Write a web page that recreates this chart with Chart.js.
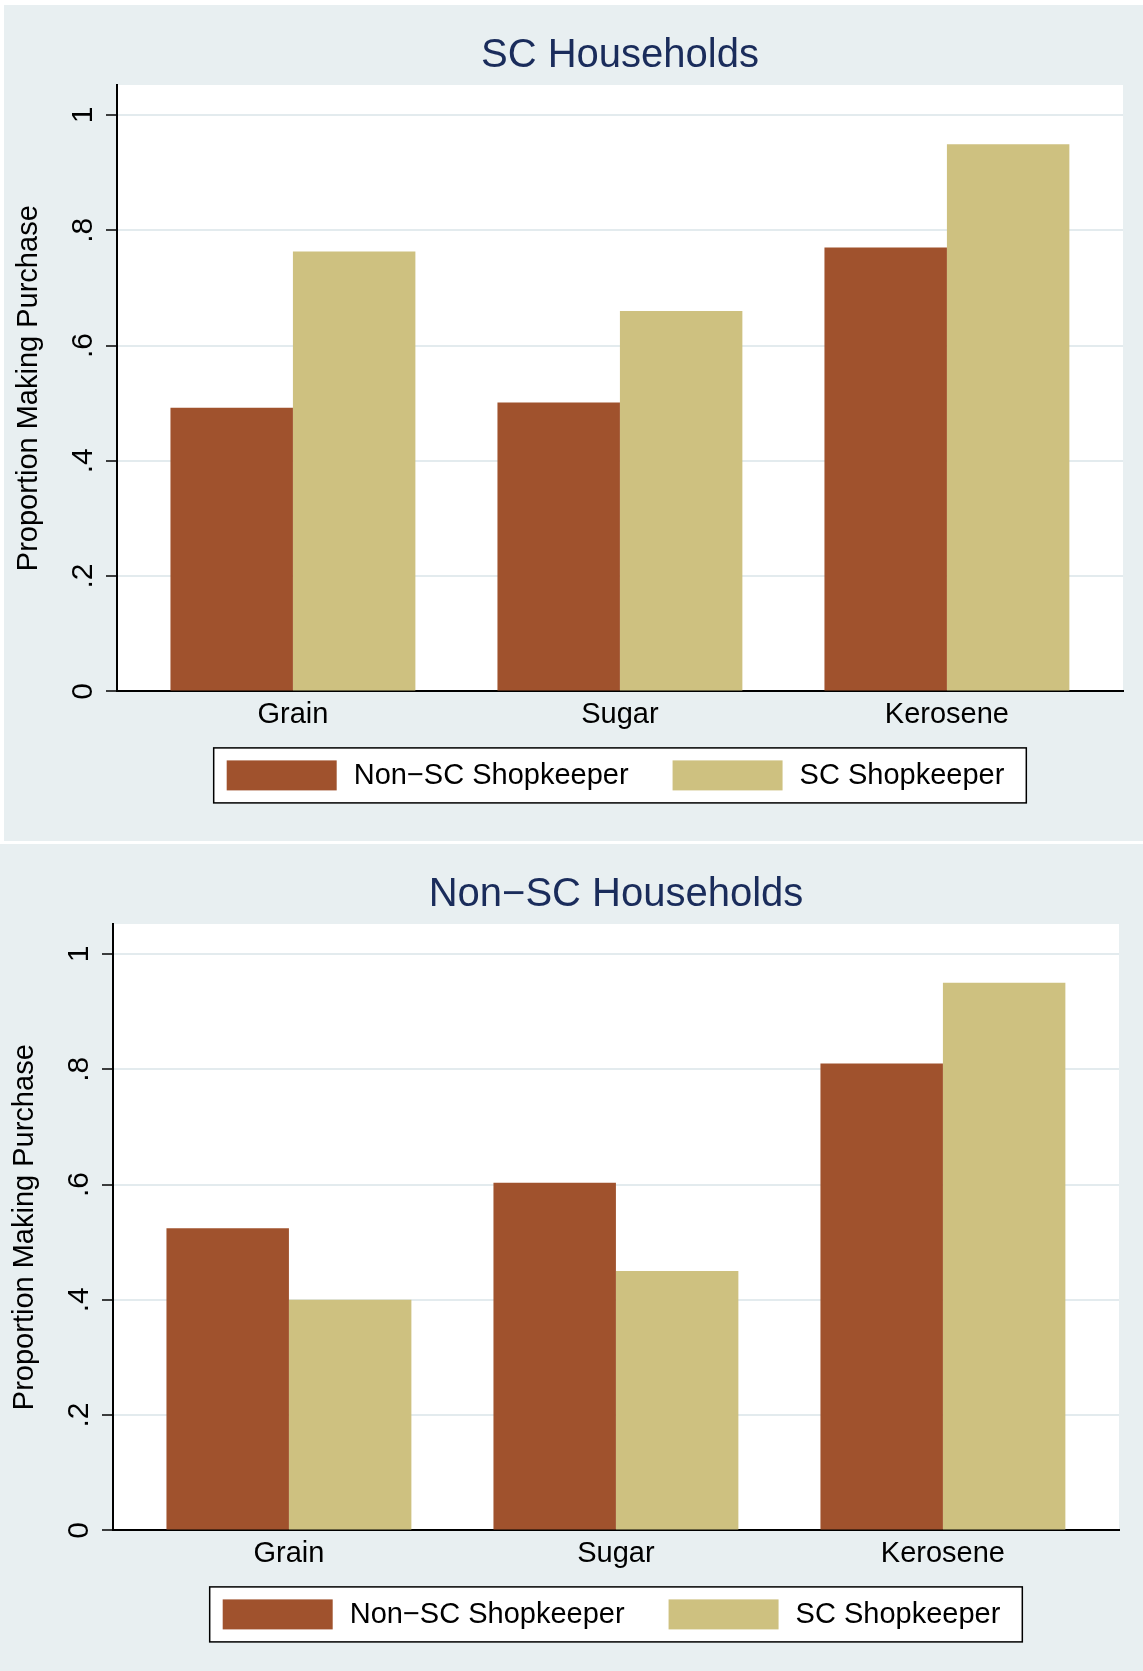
<!DOCTYPE html>
<html>
<head>
<meta charset="utf-8">
<script src="https://cdn.jsdelivr.net/npm/chart.js@4.4.1/dist/chart.umd.min.js"></script>
<style>
  body { margin: 0; background: #ffffff; width: 1143px; height: 1671px; position: relative; overflow: hidden; }
  .panel { position: absolute; background: #e8eff1; }
  #panelSC { left: 4px; top: 5px; width: 1139px; height: 836px; }
  #panelNonSC { left: 0px; top: 844px; width: 1143px; height: 827px; }
  canvas { display: block; }
</style>
</head>
<body>
<div class="panel" id="panelSC"><canvas id="scChart" width="1139" height="836"></canvas></div>
<div class="panel" id="panelNonSC"><canvas id="nonScChart" width="1143" height="827"></canvas></div>
<script>
// Data
const goods = ['Grain', 'Sugar', 'Kerosene'];
const goodsIndex = [0, 1, 2];
const shopkeeperLabels = ['Non\u2212SC Shopkeeper', 'SC Shopkeeper'];

// SC households
const scHouseholdsNonScShop = [0.492, 0.501, 0.770];
const scHouseholdsScShop = [0.763, 0.660, 0.949];
// Non-SC households
const nonScHouseholdsNonScShop = [0.524, 0.603, 0.810];
const nonScHouseholdsScShop = [0.400, 0.450, 0.950];

const yTicks = [0, 0.2, 0.4, 0.6, 0.8, 1];
const yTickLabels = ['0', '.2', '.4', '.6', '.8', '1'];
const yTitle = 'Proportion Making Purchase';

// Styles
const fontFamily = '"Liberation Sans", Arial, Helvetica, sans-serif';
const nonScColor = 'rgb(160, 82, 45)';
const scColor = 'rgb(206, 193, 128)';
const titleColor = '#1a2c5b';
const gridColor = '#e3ebee';

Chart.defaults.font.family = fontFamily;
Chart.defaults.color = '#000';

// White plot region
const plotBackground = {
    id: 'plotBackground',
    beforeDraw(chart) {
        const {ctx, chartArea} = chart;
        ctx.save();
        ctx.fillStyle = '#ffffff';
        ctx.fillRect(chartArea.left, chartArea.top, chartArea.right - chartArea.left, chartArea.bottom - chartArea.top);
        ctx.restore();
    }
};

// Rotated y tick labels and y title
const yAxisText = {
    id: 'yAxisText',
    afterDraw(chart) {
        const {ctx, chartArea} = chart;
        const yScale = chart.scales.y;
        ctx.save();
        ctx.fillStyle = '#000';
        ctx.font = '30px ' + fontFamily;
        ctx.textAlign = 'center';
        ctx.textBaseline = 'alphabetic';
        yTicks.forEach((v, i) => {
            ctx.save();
            ctx.translate(chartArea.left - 25.5, yScale.getPixelForValue(v));
            ctx.rotate(-Math.PI / 2);
            ctx.fillText(yTickLabels[i], 0, 0);
            ctx.restore();
        });
        ctx.font = '29px ' + fontFamily;
        ctx.translate(chartArea.left - 80.5, (chartArea.top + chartArea.bottom) / 2);
        ctx.rotate(-Math.PI / 2);
        ctx.fillText(yTitle, 0, 0);
        ctx.restore();
    }
};

// Boxed legend under the axis
const boxedLegend = {
    id: 'boxedLegend',
    afterDraw(chart) {
        const {ctx, chartArea} = chart;
        const sets = chart.data.datasets;
        ctx.save();
        ctx.font = '29px ' + fontFamily;
        const widths = sets.map(d => ctx.measureText(d.label).width);
        const swatchW = 110, swatchH = 30, padL = 13, padR = 22, gapText = 17, gapItem = 44;
        const boxW = padL + padR + sets.length * (swatchW + gapText) + widths.reduce((a, b) => a + b, 0) + gapItem * (sets.length - 1);
        const boxH = 55;
        const boxX = (chartArea.left + chartArea.right) / 2 - boxW / 2;
        const boxY = chartArea.bottom + 56.5;
        ctx.fillStyle = '#ffffff';
        ctx.fillRect(boxX, boxY, boxW, boxH);
        ctx.strokeStyle = '#000';
        ctx.lineWidth = 1.5;
        ctx.strokeRect(boxX, boxY, boxW, boxH);
        let x = boxX + padL;
        const swatchY = boxY + 12.5;
        ctx.textAlign = 'left';
        ctx.textBaseline = 'middle';
        sets.forEach((d, i) => {
            ctx.fillStyle = d.backgroundColor;
            ctx.fillRect(x, swatchY, swatchW, swatchH);
            x += swatchW + gapText;
            ctx.fillStyle = '#000';
            ctx.fillText(d.label, x, swatchY + swatchH / 2 + 1);
            x += widths[i] + gapItem;
        });
        ctx.restore();
    }
};

const createPanelChart = (canvasId, title, nonScValues, scValues, padRight, padBottom) => {
    const ctx = document.getElementById(canvasId).getContext('2d');
    return new Chart(ctx, {
        type: 'bar',
        data: {
            datasets: [{
                label: shopkeeperLabels[0],
                data: goodsIndex.map(i => ({x: i, y: nonScValues[i]})),
                backgroundColor: nonScColor,
                borderWidth: 0
            }, {
                label: shopkeeperLabels[1],
                data: goodsIndex.map(i => ({x: i, y: scValues[i]})),
                backgroundColor: scColor,
                borderWidth: 0
            }]
        },
        options: {
            responsive: false,
            animation: false,
            categoryPercentage: 0.749,
            barPercentage: 1.0,
            layout: {
                padding: {left: 102, right: padRight, top: 0, bottom: padBottom}
            },
            plugins: {
                legend: { display: false },
                tooltip: { enabled: false },
                title: {
                    display: true,
                    text: title,
                    fullSize: false,
                    color: titleColor,
                    font: { size: 40, weight: 'normal', family: fontFamily },
                    padding: { top: 27, bottom: 5 }
                }
            },
            scales: {
                x: {
                    type: 'linear',
                    min: -0.538,
                    max: 2.5385,
                    offset: false,
                    afterBuildTicks: (axis) => { axis.ticks = goodsIndex.map(v => ({value: v})); },
                    ticks: {
                        callback: (value) => goods[value],
                        font: { size: 29 },
                        color: '#000',
                        padding: 6,
                        autoSkip: false,
                        maxRotation: 0
                    },
                    grid: { display: false, drawTicks: false, offset: false },
                    border: { color: '#000', width: 2 }
                },
                y: {
                    min: 0,
                    max: 1.052,
                    afterBuildTicks: (axis) => { axis.ticks = yTicks.map(v => ({value: v})); },
                    ticks: { display: false },
                    grid: {
                        color: gridColor,
                        lineWidth: 2,
                        drawTicks: true,
                        tickLength: 11,
                        tickColor: '#000',
                        tickWidth: 1.5
                    },
                    border: { color: '#000', width: 2 }
                }
            }
        },
        plugins: [plotBackground, yAxisText, boxedLegend]
    });
};

// x-scale height grows with the 29px labels (1.2 line height), so bottom padding shrinks to keep the plot fixed
createPanelChart('scChart', 'SC Households', scHouseholdsNonScShop, scHouseholdsScShop, 20, 102.8);
createPanelChart('nonScChart', 'Non\u2212SC Households', nonScHouseholdsNonScShop, nonScHouseholdsScShop, 24, 93.8);
</script>
</body>
</html>
